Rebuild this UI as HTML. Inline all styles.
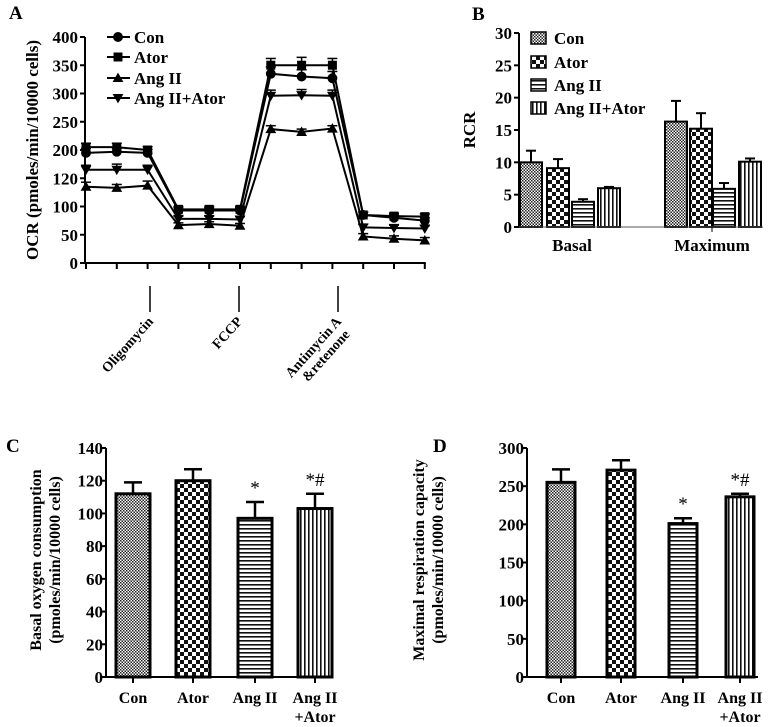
<!DOCTYPE html>
<html><head><meta charset="utf-8"><style>
html,body{margin:0;padding:0;background:#fff}
svg{display:block;font-family:"Liberation Serif",serif;font-weight:bold}
</style></head><body>
<svg id="fig" width="772" height="727" viewBox="0 0 772 727" xmlns="http://www.w3.org/2000/svg">
<defs>
<pattern id="pCon" width="3" height="3" patternUnits="userSpaceOnUse"><rect width="3" height="3" fill="#fff"/><rect width="1.5" height="1.5" fill="#222"/><rect x="1.5" y="1.5" width="1.5" height="1.5" fill="#222"/></pattern>
<pattern id="pAtor" width="8" height="8" patternUnits="userSpaceOnUse"><rect width="8" height="8" fill="#fff"/><rect width="4" height="4" fill="#111"/><rect x="4" y="4" width="4" height="4" fill="#111"/></pattern>
<pattern id="pAng" width="4" height="4" patternUnits="userSpaceOnUse"><rect width="4" height="4" fill="#fff"/><rect width="4" height="1.6" fill="#111"/></pattern>
<pattern id="pAngA" width="4" height="4" patternUnits="userSpaceOnUse"><rect width="4" height="4" fill="#fff"/><rect width="1.6" height="4" fill="#111"/></pattern>
</defs>
<text x="9" y="19" font-size="19">A</text>
<text x="472" y="20" font-size="19">B</text>
<text x="6" y="452" font-size="19">C</text>
<text x="433" y="452" font-size="19">D</text>
<g id="gA"></g>
<g id="gB"></g>
<g id="gC"></g>
<g id="gD"></g>
</svg>
<script>
// ---- Panel A data ----
const aSeries = ["Con","Ator","Ang II","Ang II+Ator"];
const aCon = [195,197,195,93,93,93,335,330,327,85,80,75];
const aAtor = [205,205,200,95,95,95,350,350,350,85,83,82];
const aAng = [135,133,137,67,69,66,237,232,238,47,43,40];
const aAngAtor = [165,165,165,78,78,77,296,297,296,63,62,61];
const aErr = [[8,6,6,5,5,5,12,12,12,5,5,5],[7,7,6,5,5,5,12,14,12,5,5,5],[8,6,8,4,4,4,6,5,5,5,5,5],[8,10,8,5,5,5,10,10,10,5,5,5]];
const aTickLabels = ["0","50","100","120","200","250","300","350","400"];
const aTickValues = [0,50,100,150,200,250,300,350,400];
// ---- Panel B data ----
const bCats = ["Basal","Maximum"];
const bCon = [10.0,16.3];
const bAtor = [9.1,15.2];
const bAng = [3.9,5.9];
const bAngAtor = [6.0,10.1];
const bErr = [[1.8,3.2],[1.4,2.4],[0.4,0.9],[0.2,0.5]];
const bTicks = [0,5,10,15,20,25,30];
// ---- Panel C data ----
const cCats = ["Con","Ator","Ang II","Ang II|+Ator"];
const cVals = [112,120,97,103];
const cErr = [7,7,10,9];
const cSig = ["","","*","*#"];
const cTicks = [0,20,40,60,80,100,120,140];
// ---- Panel D data ----
const dCats = ["Con","Ator","Ang II","Ang II|+Ator"];
const dVals = [255,271,201,236];
const dErr = [17,13,7,4];
const dSig = ["","","*","*#"];
const dTicks = [0,50,100,150,200,250,300];

const NS="http://www.w3.org/2000/svg";
const fills=["url(#pCon)","url(#pAtor)","url(#pAng)","url(#pAngA)"];
function mk(parent,tag,attrs,txt){const e=document.createElementNS(NS,tag);for(const k in attrs)e.setAttribute(k,attrs[k]);if(txt!==undefined)e.textContent=txt;parent.appendChild(e);return e;}

// ================= Panel A =================
(function(){
const g=document.getElementById('gA');
const x0=86,dx=30.8,yb=263,ky=226/400;
const X=i=>x0+i*dx, Y=v=>yb-v*ky;
let e=mk(g,'line',{x1:85,y1:Y(400),x2:85,y2:yb,stroke:'#000','stroke-width':2});


e=mk(g,'line',{x1:85,y1:yb,x2:X(11)+1,y2:yb,stroke:'#000','stroke-width':2});


aTickValues.forEach((v,i)=>{
 mk(g,'line',{x1:80,y1:Y(v),x2:85,y2:Y(v),stroke:'#000','stroke-width':2});
 const t=mk(g,'text',{x:78,y:Y(v)+6,'font-size':17,'text-anchor':'end'},aTickLabels[i]);
 
 
});
for(let i=0;i<12;i++){mk(g,'line',{x1:X(i),y1:yb,x2:X(i),y2:yb+6,stroke:'#000','stroke-width':2});}
e=mk(g,'text',{transform:'translate(38,150) rotate(-90)','font-size':17,'text-anchor':'middle'},'OCR (pmoles/min/10000 cells)');


const drugs=[["Oligomycin",150],["FCCP",239],["Antimycin A|&retenone",338]];
drugs.forEach(d=>{
 mk(g,'line',{x1:d[1],y1:286,x2:d[1],y2:312,stroke:'#000','stroke-width':1.5});
 const lines=d[0].split('|');
 const t=mk(g,'text',{transform:`translate(${d[1]+4},322) rotate(-48)`,'font-size':14,'text-anchor':'end'});
 lines.forEach((l,j)=>{mk(t,'tspan',{x:0-j*4,dy:j?15:0},l);});
 
 
});
const all=[aCon,aAtor,aAng,aAngAtor];
function marker(p,k,cx,cy,s){
 if(k===0)return mk(p,'circle',{cx,cy,r:s*0.55,fill:'#000'});
 if(k===1)return mk(p,'rect',{x:cx-s/2,y:cy-s/2,width:s,height:s,fill:'#000'});
 if(k===2)return mk(p,'polygon',{points:`${cx},${cy-s*0.6} ${cx-s*0.6},${cy+s*0.45} ${cx+s*0.6},${cy+s*0.45}`,fill:'#000'});
 return mk(p,'polygon',{points:`${cx},${cy+s*0.6} ${cx-s*0.6},${cy-s*0.45} ${cx+s*0.6},${cy-s*0.45}`,fill:'#000'});
}
all.forEach((s,k)=>{
 const sg=mk(g,'g',{});
 
 
 mk(sg,'polyline',{points:s.map((v,i)=>X(i)+','+Y(v)).join(' '),fill:'none',stroke:'#000','stroke-width':2});
 s.forEach((v,i)=>{
  const er=aErr[k][i];
  mk(sg,'line',{x1:X(i),y1:Y(v),x2:X(i),y2:Y(v+er),stroke:'#000','stroke-width':1.5});
  mk(sg,'line',{x1:X(i)-5,y1:Y(v+er),x2:X(i)+5,y2:Y(v+er),stroke:'#000','stroke-width':1.5});
  const m=marker(sg,k,X(i),Y(v),9);
  
  
 });
});
const ly=[37,57,78,98];
aSeries.forEach((n,k)=>{
 const lg=mk(g,'g',{});
 
 
 mk(lg,'line',{x1:107,y1:ly[k],x2:130,y2:ly[k],stroke:'#000','stroke-width':2});
 marker(lg,k,118,ly[k],9);
 mk(lg,'text',{x:134,y:ly[k]+6,'font-size':17},n);
});
})();

// ================= Panel B =================
(function(){
const g=document.getElementById('gB');
const xa=519,yb=227,ky=194/30;
const Y=v=>yb-v*ky;
const starts=[[520,547,572,598],[665,690,713,739]];
const w=22;
const all=[bCon,bAtor,bAng,bAngAtor];
bCats.forEach((c,ci)=>{
 all.forEach((s,k)=>{
  const x=starts[ci][k],v=s[ci],er=bErr[k][ci];
  mk(g,'line',{x1:x+w/2,y1:Y(v),x2:x+w/2,y2:Y(v+er),stroke:'#000','stroke-width':2});
  mk(g,'line',{x1:x+w/2-5,y1:Y(v+er),x2:x+w/2+5,y2:Y(v+er),stroke:'#000','stroke-width':2});
  const r=mk(g,'rect',{x:x,y:Y(v),width:w,height:yb-Y(v),fill:fills[k],stroke:'#000','stroke-width':2});
  
  
 });
 const t=mk(g,'text',{x:ci?712:572,y:251,'font-size':17,'text-anchor':'middle'},c);
 
 
});
let e=mk(g,'line',{x1:xa,y1:Y(30),x2:xa,y2:yb,stroke:'#000','stroke-width':2});


e=mk(g,'line',{x1:xa,y1:yb,x2:763,y2:yb,stroke:'#555','stroke-width':1});


mk(g,'line',{x1:712,y1:yb,x2:712,y2:yb+5,stroke:'#000','stroke-width':1});
bTicks.forEach(v=>{
 mk(g,'line',{x1:xa-5,y1:Y(v),x2:xa,y2:Y(v),stroke:'#000','stroke-width':2});
 const t=mk(g,'text',{x:xa-7,y:Y(v)+6,'font-size':17,'text-anchor':'end'},String(v));
 
 
});
e=mk(g,'text',{transform:'translate(475,130) rotate(-90)','font-size':17,'text-anchor':'middle'},'RCR');


const ly=[38,62,85,108];
["Con","Ator","Ang II","Ang II+Ator"].forEach((n,k)=>{
 const lg=mk(g,'g',{});
 
 
 mk(lg,'rect',{x:531,y:ly[k]-6,width:15,height:12,fill:fills[k],stroke:'#000','stroke-width':1.5});
 mk(lg,'text',{x:554,y:ly[k]+6,'font-size':17},n);
});
})();

// ================= Panels C & D =================
function barPanel(id,pfx,xa,xEnd,ymaxPix,vmax,ticks,cats,vals,errs,sig,centers,w,title,tx){
 const g=document.getElementById(id);
 const yb=677,ky=(yb-ymaxPix)/vmax;
 const Y=v=>yb-v*ky;
 vals.forEach((v,i)=>{
  const cx=centers[i],er=errs[i];
  mk(g,'line',{x1:cx,y1:Y(v),x2:cx,y2:Y(v+er),stroke:'#000','stroke-width':2.5});
  mk(g,'line',{x1:cx-9,y1:Y(v+er),x2:cx+9,y2:Y(v+er),stroke:'#000','stroke-width':2.5});
  const r=mk(g,'rect',{x:cx-w/2,y:Y(v),width:w,height:yb-Y(v),fill:fills[i],stroke:'#000','stroke-width':3});
  
  
  if(sig[i]){
   const s=mk(g,'text',{x:cx,y:Y(v+er)-8,'font-size':19,'font-weight':'normal','text-anchor':'middle'},sig[i]);
   
   
  }
  mk(g,'line',{x1:cx,y1:yb,x2:cx,y2:yb+6,stroke:'#000','stroke-width':2});
  const parts=cats[i].split('|');
  const t=mk(g,'text',{x:cx,y:703,'font-size':16,'text-anchor':'middle'});
  parts.forEach((p,j)=>mk(t,'tspan',{x:cx,dy:j?19:0},p));
  
  
 });
 let e=mk(g,'line',{x1:xa,y1:ymaxPix,x2:xa,y2:yb,stroke:'#000','stroke-width':2});
 
 
 e=mk(g,'line',{x1:xa,y1:yb,x2:xEnd,y2:yb,stroke:'#000','stroke-width':2});
 
 
 ticks.forEach(v=>{
  mk(g,'line',{x1:xa-5,y1:Y(v),x2:xa,y2:Y(v),stroke:'#000','stroke-width':2});
  const t=mk(g,'text',{x:xa-3,y:Y(v)+6,'font-size':17,'text-anchor':'end'},String(v));
  
  
 });
 const tt=mk(g,'text',{transform:`translate(${tx},560) rotate(-90)`,'font-size':16,'text-anchor':'middle'});
 mk(tt,'tspan',{x:0,dy:0},title[0]);
 mk(tt,'tspan',{x:0,dy:19},title[1]);
 
 
}
barPanel('gC','c',106,332,448,140,cTicks,cCats,cVals,cErr,cSig,[133,193,255,315],34,['Basal  oxygen consumption','(pmoles/min/10000 cells)'],41);
barPanel('gD','d',527,758,448,300,dTicks,dCats,dVals,dErr,dSig,[561,621,683,740],28,['Maximal respiration capacity','(pmoles/min/10000 cells)'],424);
</script>
</body></html>
